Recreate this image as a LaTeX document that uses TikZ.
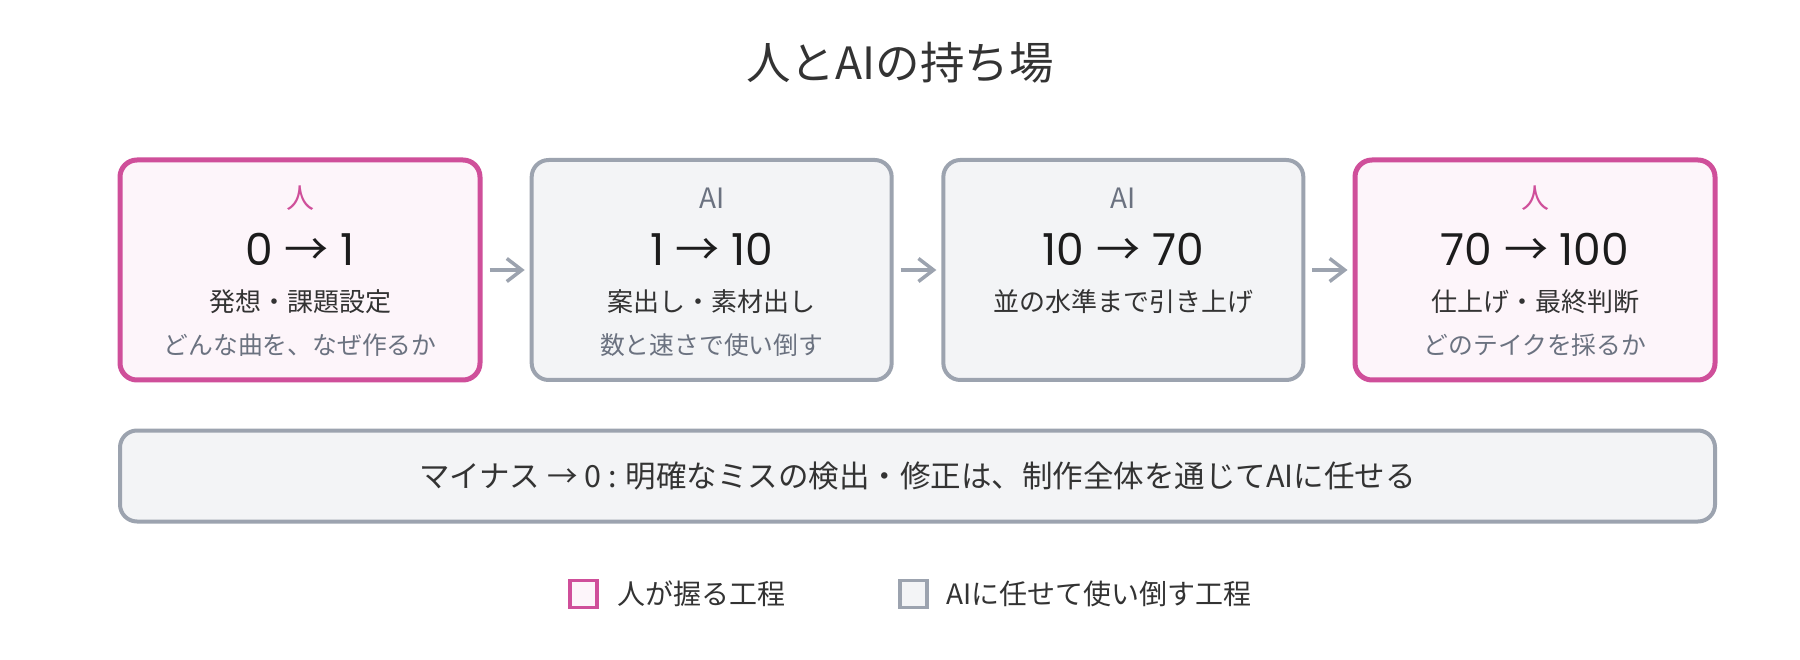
\documentclass[tikz,border=0pt]{standalone}
\usepackage{fontspec}
\setmainfont{Noto Sans CJK JP}
\newfontfamily\digitfont{Poppins}
\newfontfamily\cjkfont{Noto Sans CJK JP}
\usetikzlibrary{arrows.meta}
\definecolor{pinkb}{HTML}{CF4F9A}
\definecolor{pinkf}{HTML}{FDF5FA}
\definecolor{grayb}{HTML}{9CA3AF}
\definecolor{grayf}{HTML}{F3F4F6}
\definecolor{labgray}{HTML}{6B7280}
\definecolor{darktxt}{HTML}{1C1C1C}
\definecolor{midtxt}{HTML}{333333}
\newcommand{\arr}{{\cjkfont →}}
\tikzset{
  stagebox/.style={rounded corners=17pt, minimum width=360pt, minimum height=220pt, inner sep=0pt},
  humanbox/.style={stagebox, draw=pinkb, fill=pinkf, line width=5pt},
  aibox/.style={stagebox, draw=grayb, fill=grayf, line width=4pt},
  widebox/.style={rounded corners=17pt, minimum width=1595pt, minimum height=91pt, line width=4pt, draw=grayb, fill=grayf, inner sep=0pt},
  who/.style={inner sep=0pt, font=\fontsize{28}{32}\selectfont},
  whoh/.style={who, text=pinkb},
  whoa/.style={who, text=labgray},
  num/.style={inner sep=0pt, text=darktxt, font=\digitfont\fontsize{44}{52}\selectfont},
  maintxt/.style={inner sep=0pt, text=midtxt, font=\fontsize{26}{30}\selectfont},
  subtxt/.style={inner sep=0pt, text=labgray, font=\fontsize{24.8}{28}\selectfont},
  flow/.style={draw=grayb, line width=3.5pt, -{Straight Barb[length=15pt,width=23pt,line width=3.5pt]}, shorten <=7pt, shorten >=5pt},
  legbox/.style={line width=3.5pt, minimum size=27pt, inner sep=0pt},
  legtxt/.style={inner sep=0pt, anchor=west, text=midtxt, font=\fontsize{28}{32}\selectfont},
}
\begin{document}
\begin{tikzpicture}[x=1pt,y=-1pt]
\useasboundingbox[fill=white] (0,0) rectangle (1800,660);
\node[inner sep=0pt, text=midtxt, font=\fontsize{44.5}{52}\selectfont] (title) at (900,63) {人とAIの持ち場};

\node[humanbox] (b1) at (300,270) {};
\node[aibox] (b2) at (711.67,270) {};
\node[aibox] (b3) at (1123.33,270) {};
\node[humanbox] (b4) at (1535,270) {};

\node[whoh] (w1) at (300,198) {人};
\node[whoa] (w2) at (711.67,198) {AI};
\node[whoa] (w3) at (1123.33,198) {AI};
\node[whoh] (w4) at (1535,198) {人};

\node[num] (n1) at (300,249) {0 \arr{} 1};
\node[num] (n2) at (711.67,249) {1 \arr{} 10};
\node[num] (n3) at (1123.33,249) {10 \arr{} 70};
\node[num] (n4) at (1535,249) {70 \arr{} 100};

\node[maintxt] (m1) at (300,302) {発想・課題設定};
\node[maintxt] (m2) at (711.67,302) {案出し・素材出し};
\node[maintxt] (m3) at (1123.33,302) {並の水準まで引き上げ};
\node[maintxt] (m4) at (1535,302) {仕上げ・最終判断};

\node[subtxt] (s1) at (300,345) {どんな曲を、なぜ作るか};
\node[subtxt] (s2) at (711.67,345) {数と速さで使い倒す};
\node[subtxt] (s4) at (1535,345) {どのテイクを採るか};

\draw[flow] (b1) -- (b2);
\draw[flow] (b2) -- (b3);
\draw[flow] (b3) -- (b4);

\node[widebox] (wide) at (917.5,476) {};
\node[inner sep=0pt, text=midtxt, font=\fontsize{30.5}{35}\selectfont] (widetxt) at (917.5,476) {マイナス → 0 : 明確なミスの検出・修正は、制作全体を通じてAIに任せる};

\node[legbox, draw=pinkb, fill=pinkf] (lg1) at (583.5,594) {};
\node[legtxt] (lt1) at (617,594) {人が握る工程};
\node[legbox, draw=grayb, fill=grayf] (lg2) at (913.5,594) {};
\node[legtxt] (lt2) at (946,594) {AIに任せて使い倒す工程};
\end{tikzpicture}
\end{document}
